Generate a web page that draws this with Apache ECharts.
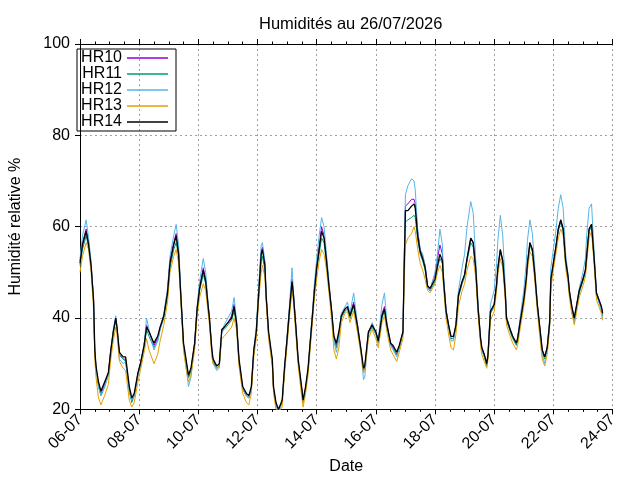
<!DOCTYPE html>
<html>
<head>
<meta charset="utf-8">
<script src="https://cdn.jsdelivr.net/npm/echarts@6/dist/echarts.min.js"></script>
<style>
html, body { margin: 0; padding: 0; background: #fff; }
#chart { width: 640px; height: 480px; }
</style>
</head>
<body>
<div id="chart"></div>
<script>
// heures depuis le 06-07 00:00
const hours = [
  0, 2, 5, 7, 9, 11, 12, 13, 15, 17,
  20, 23, 25, 27, 29, 30, 32, 35, 37, 40,
  42, 44, 47, 49, 52, 54, 56, 60, 63, 65,
  68, 71, 73, 76, 78, 80, 82, 84, 86, 88,
  90, 93, 95, 97, 100, 102, 104, 105, 107, 108,
  111, 113, 115, 117, 120, 123, 125, 127, 129, 132,
  135, 137, 139, 141, 143, 145, 147, 148, 150, 151,
  153, 156, 157, 159, 161, 164, 166, 168, 170, 172,
  173, 175, 177, 180, 181, 183, 185, 187, 189, 190,
  192, 194, 196, 198, 200, 202, 204, 206, 208, 210,
  212, 215, 217, 219, 222, 225, 228, 230, 231, 234,
  237, 240, 242, 245, 247, 249, 252, 254, 257, 259,
  262, 263, 264, 266, 269, 271, 272, 274, 276, 278,
  280, 282, 284, 286, 288, 290, 292, 294, 295, 297,
  299, 301, 303, 305, 307, 310, 312, 314, 317, 319,
  321, 323, 325, 326, 328, 330, 331, 333, 336, 338,
  339, 341, 343, 345, 346, 349, 351, 354, 355, 357,
  360, 362, 363, 365, 367, 369, 371, 373, 375, 377,
  379, 381, 382, 384, 386, 388, 390, 392, 394, 396,
  397, 399, 401, 403, 405, 408, 410, 411, 413, 415,
  417, 419, 421, 423, 424
]

const hr10 = [
  52.5, 56.5, 59.5, 56.5, 51.5, 44, 33, 29, 25.5, 23.5,
  25.5, 28, 33, 37, 40, 38, 32, 31, 31, 24.5,
  22, 23, 28, 30, 34, 38.5, 37, 34, 35.5, 38,
  40.5, 46, 52.5, 56.5, 58.5, 54.5, 44, 34, 30.5, 27,
  28.5, 34.5, 42, 46.5, 51, 48.5, 42.5, 40, 33, 30.5,
  29, 29.5, 37, 38, 39, 40.5, 43, 39, 30.5, 24.5,
  23, 22.5, 24.5, 33, 37, 46, 54.5, 55.5, 52, 45,
  36.5, 30.5, 24.5, 21, 19.5, 21.5, 29, 35.5, 42, 48.5,
  46, 38.5, 30.5, 24, 21.5, 24.5, 28.5, 35.5, 42, 46,
  51.5, 55.5, 60, 58, 53, 47, 42, 35.5, 34, 36.5,
  40.5, 42, 42.5, 40.5, 43.5, 38.5, 33, 28.5, 29, 37,
  38.5, 37, 35, 41, 42.5, 38.5, 34.5, 33.5, 32, 33.5,
  37, 52, 64.5, 65, 66, 66, 65, 59, 55, 53.5,
  51.5, 47, 46, 48, 49.5, 53, 56, 54, 48.5, 41.5,
  38.5, 35.5, 35.5, 38.5, 45, 48, 49.5, 53, 57.5, 56.5,
  51, 42, 35.5, 33.5, 32, 30, 32, 41.5, 43, 47.5,
  51, 55, 52.5, 45.5, 40, 37.5, 36, 34.5, 35.5, 39,
  44, 48.5, 52, 56.5, 55, 49.5, 43, 38, 33, 31.5,
  33.5, 39, 48.5, 52, 55.5, 59.5, 61.5, 59.5, 52.5, 49,
  46, 42.5, 40, 43, 46, 48.5, 50.5, 53.5, 59.5, 60.5,
  53.5, 45.5, 44, 42.5, 41
]

const hr11 = [
  51.5, 55, 58, 55.5, 51, 43.5, 32.5, 29, 25, 23,
  25, 27.5, 32.5, 36.5, 39.5, 37.5, 32, 31, 30.5, 24,
  21.5, 23, 27.5, 29.5, 33.5, 37.5, 36, 33.5, 35, 37.5,
  40, 45, 51, 55, 56.5, 53.5, 43.5, 34, 30.5, 27,
  28.5, 34, 41.5, 46, 49.5, 47.5, 42, 39.5, 32.5, 30.5,
  29, 29.5, 37, 37.5, 38.5, 39.5, 41.5, 38.5, 30.5, 24.5,
  23, 22.5, 24.5, 32.5, 36.5, 45, 52.5, 53.5, 50.5, 44.5,
  36.5, 30.5, 24.5, 21, 20, 21.5, 29, 35, 41.5, 47,
  45, 38, 30.5, 24, 21.5, 24.5, 28.5, 35, 41.5, 45,
  50.5, 54, 57.5, 56.5, 52, 46.5, 41.5, 35.5, 33.5, 36,
  40, 41.5, 42, 40, 42.5, 38, 32.5, 28.5, 29, 36.5,
  38, 36.5, 34.5, 40, 41.5, 38, 34, 33.5, 32, 33.5,
  36.5, 50, 61, 61.5, 62, 62.5, 62, 57, 54, 52.5,
  50.5, 46.5, 46, 47, 48, 51, 53, 52, 47.5, 41,
  38, 35.5, 35.5, 38, 44.5, 47.5, 49, 52.5, 56.5, 55.5,
  50.5, 41.5, 35, 33, 31.5, 29.5, 31.5, 41, 42.5, 47,
  50.5, 54.5, 52, 45, 39.5, 37, 35.5, 34, 35, 38.5,
  43.5, 48, 51.5, 56, 54.5, 49, 42.5, 37.5, 32.5, 31,
  33, 38.5, 48, 51.5, 55, 59, 61, 59, 52, 48.5,
  45.5, 42, 39.5, 42.5, 45.5, 48, 50, 53, 59, 60,
  53, 45, 43.5, 42, 40.5
]

const hr12 = [
  53, 58, 61.5, 57.5, 52.5, 44, 32, 28.5, 25, 23,
  25, 27.5, 33, 37.5, 40.5, 37.5, 31, 30, 30.5, 24,
  22, 23, 27.5, 29.5, 34, 40, 37.5, 33, 35, 37.5,
  41, 46.5, 53.5, 58, 60.5, 56, 44.5, 33.5, 29.5, 25,
  27, 34, 42.5, 48, 53, 50, 43, 40, 32, 30,
  28.5, 29, 37, 38.5, 40, 41.5, 44.5, 39.5, 30, 24.5,
  23, 22.5, 25, 33, 38, 47, 56, 56.5, 52.5, 45,
  36, 30, 24.5, 21, 19.5, 21.5, 29, 36, 43, 51,
  46.5, 38.5, 30.5, 23.5, 21.5, 24.5, 28.5, 36, 43, 47,
  53, 58, 62, 60, 54, 48, 42, 35, 32.5, 35.5,
  41, 42.5, 43.5, 41, 45.5, 39, 32.5, 26.5, 27, 36.5,
  39, 36.5, 35.5, 43, 45.5, 39, 34, 33, 31.5, 33.5,
  37, 53, 67, 69, 70.5, 70, 68, 59, 55, 54,
  51.5, 47, 46, 48, 50, 54, 59.5, 56, 49, 42,
  38.5, 35, 35, 38.5, 46, 51, 54, 60, 65.5, 63,
  53, 43, 35, 33, 31.5, 30, 32, 43, 46, 52,
  57, 62.5, 58, 47, 40.5, 37.5, 36, 34.5, 35.5, 40,
  46, 52, 57, 61.5, 58.5, 51, 43, 37, 32, 30,
  33, 40, 51, 55, 59, 64, 67, 64, 54, 49.5,
  45.5, 41.5, 39, 43, 46.5, 50, 53, 58, 64, 65,
  55, 45.5, 43.5, 41.5, 40
]

const hr13 = [
  50, 53.5, 56.5, 55, 50, 42, 31, 27, 22.5, 21,
  23, 25.5, 31, 35, 38, 36.5, 30.5, 29, 28.5, 22,
  20.5, 21.5, 26, 28.5, 32.5, 35.5, 33, 30, 32, 35,
  38.5, 43.5, 50, 53.5, 55, 52, 42.5, 33, 29, 26,
  27.5, 33, 40.5, 44.5, 47.5, 46, 41, 38.5, 31.5, 30,
  29, 29.5, 35.5, 36, 37, 38, 40, 37.5, 29.5, 23.5,
  21.5, 21, 23.5, 31.5, 35.5, 44, 50, 51.5, 49, 43.5,
  35.5, 29.5, 23.5, 20, 19.5, 20.5, 28, 34, 40.5, 46,
  44, 37, 29.5, 22.5, 20.5, 23.5, 27.5, 34, 40.5, 44,
  48.5, 52.5, 55, 54, 50.5, 45.5, 40, 33, 31, 33.5,
  39, 41, 41.5, 39, 41.5, 37, 32, 28, 28.5, 35.5,
  37.5, 35.5, 33.5, 39, 40.5, 37, 33, 32, 30.5, 32.5,
  35.5, 48, 56, 57.5, 58.5, 60, 59, 55, 52, 50.5,
  48.5, 46, 45.5, 46.5, 47.5, 50, 51.5, 50, 46.5, 40,
  36.5, 33.5, 33, 36.5, 42.5, 46, 47.5, 50.5, 53.5, 53,
  49, 40.5, 34, 32, 30.5, 29, 31, 39.5, 41.5, 46,
  49.5, 53, 51, 44, 38.5, 36, 34.5, 33, 34, 37.5,
  42.5, 47, 50.5, 54.5, 53.5, 48, 41.5, 36, 31, 29.5,
  32, 37.5, 46.5, 50.5, 54, 57.5, 59.5, 58, 51, 47.5,
  44.5, 41, 38.5, 41.5, 44.5, 47, 49, 52, 57.5, 59,
  52, 44, 42.5, 41, 39.5
]

const hr14 = [
  52, 56, 59, 56, 51.5, 44, 33, 29.5, 26, 24,
  26, 28, 33, 37, 40, 38, 32.5, 31.5, 31.5, 25,
  22.5, 23.5, 28, 30, 34, 38, 37, 34.5, 36, 38,
  40.5, 45.5, 52, 56, 58, 54, 44, 34.5, 31, 27.5,
  29, 34.5, 42, 46.5, 50.5, 48, 42.5, 40, 33, 31,
  29.5, 30, 37.5, 38, 39, 40, 42.5, 39, 31, 25,
  23.5, 23, 25, 33, 37, 45.5, 54, 55, 51.5, 45,
  37, 31, 25, 21.5, 20, 22, 29.5, 35.5, 42, 48,
  45.5, 38.5, 31, 24.5, 22, 25, 29, 35.5, 42, 45.5,
  51, 55, 59, 57.5, 52.5, 47, 42, 36, 34.5, 37,
  40.5, 42, 42.5, 40.5, 43, 38.5, 33, 29, 29.5, 37,
  38.5, 37, 35, 40.5, 42, 38.5, 34.5, 34, 32.5, 34,
  37, 51, 63.5, 63.5, 64.5, 65, 64, 58, 54.5, 53,
  51, 47, 46.5, 47.5, 48.5, 51.5, 54, 52.5, 48, 41.5,
  38.5, 36, 36, 38.5, 45, 48, 49.5, 53, 57.5, 56.5,
  51, 42, 35.5, 33.5, 32, 30, 32, 41.5, 43, 47.5,
  51, 55, 52.5, 45.5, 40, 37.5, 36, 34.5, 35.5, 39,
  44, 48.5, 52, 56.5, 55, 49.5, 43, 38, 33, 31.5,
  33.5, 39, 48.5, 52, 55.5, 59.5, 61.5, 59.5, 52.5, 49,
  46, 42.5, 40, 43, 46, 48.5, 50.5, 53.5, 59.5, 60.5,
  53.5, 45.5, 44, 42.5, 41
]

const seriesNames = ['HR10', 'HR11', 'HR12', 'HR13', 'HR14']
const seriesValues = [hr10, hr11, hr12, hr13, hr14]
const seriesColors = ['#9400d3', '#009e73', '#56b4e9', '#e69f00', '#000000']

const dateLabels = ['06-07', '08-07', '10-07', '12-07', '14-07', '16-07', '18-07', '20-07', '22-07', '24-07']
const yTicks = [20, 40, 60, 80, 100]

const FONT = 'Liberation Sans'
const FS = 16
const xStep = 48
const xMax = xStep * (dateLabels.length - 1)

const gridLine = { show: true, lineStyle: { color: '#a0a0a0', type: [2, 3], width: 1 } }
const blackLine = { lineStyle: { color: '#000', width: 1 } }

const chart = echarts.init(document.getElementById('chart'))
chart.setOption({
  animation: false,
  backgroundColor: '#fff',
  textStyle: { fontFamily: FONT },
  title: {
    text: 'Humidités au 26/07/2026',
    left: 254,
    top: 11,
    textStyle: { fontFamily: FONT, fontSize: 16.5, fontWeight: 'normal', color: '#000' }
  },
  legend: {
    orient: 'vertical',
    left: 77,
    top: 49,
    align: 'right',
    icon: 'rect',
    itemWidth: 41,
    itemHeight: 1.5,
    itemGap: 0,
    padding: [1, 8, 1, 3],
    borderColor: '#000',
    borderWidth: 1,
    textStyle: { fontFamily: FONT, fontSize: FS, color: '#000', width: 42, align: 'left', lineHeight: 15.2 },
    data: seriesNames
  },
  grid: { left: 73.5, right: 27.5, top: 44, bottom: 69 },
  xAxis: [
    {
      type: 'value',
      position: 'bottom',
      min: 0,
      max: xMax,
      interval: xStep,
      axisLine: blackLine,
      axisTick: { length: 5, lineStyle: { color: '#000' } },
      minorTick: { show: true, splitNumber: 4, length: 2.5, lineStyle: { color: '#000' } },
      axisLabel: {
        rotate: 45,
        margin: 8,
        fontSize: FS,
        color: '#000',
        fontFamily: FONT,
        formatter: v => dateLabels[Math.round(v / xStep)]
      },
      splitLine: gridLine,
      name: 'Date',
      nameLocation: 'middle',
      nameGap: 47,
      nameTextStyle: { fontFamily: FONT, fontSize: FS, color: '#000' }
    },
    {
      type: 'value',
      position: 'top',
      min: 0,
      max: xMax,
      interval: xStep,
      axisLine: blackLine,
      axisTick: { length: 5, lineStyle: { color: '#000' } },
      minorTick: { show: true, splitNumber: 4, length: 2.5, lineStyle: { color: '#000' } },
      axisLabel: { show: false },
      splitLine: { show: false }
    }
  ],
  yAxis: [
    {
      type: 'value',
      position: 'left',
      min: yTicks[0],
      max: yTicks[yTicks.length - 1],
      interval: yTicks[1] - yTicks[0],
      axisLine: { show: true, lineStyle: { color: '#000', width: 1 } },
      axisTick: { show: true, length: 5, lineStyle: { color: '#000' } },
      axisLabel: { fontSize: FS, color: '#000', fontFamily: FONT, margin: 10 },
      splitLine: gridLine,
      name: 'Humidité relative %',
      nameLocation: 'middle',
      nameRotate: 90,
      nameGap: 56,
      nameTextStyle: { fontFamily: FONT, fontSize: FS, color: '#000' }
    },
    {
      type: 'value',
      position: 'right',
      min: yTicks[0],
      max: yTicks[yTicks.length - 1],
      interval: yTicks[1] - yTicks[0],
      axisLine: { show: true, lineStyle: { color: '#000', width: 1 } },
      axisTick: { show: true, inside: true, length: 4, lineStyle: { color: '#000' } },
      axisLabel: { show: false },
      splitLine: { show: false }
    }
  ],
  series: seriesNames.map((name, k) => ({
    name,
    type: 'line',
    xAxisIndex: 0,
    yAxisIndex: 0,
    showSymbol: false,
    symbol: 'none',
    color: seriesColors[k],
    lineStyle: { width: k === 4 ? 1.3 : 1, color: seriesColors[k] },
    data: hours.map((h, i) => [h, seriesValues[k][i]])
  }))
})
</script>
</body>
</html>
